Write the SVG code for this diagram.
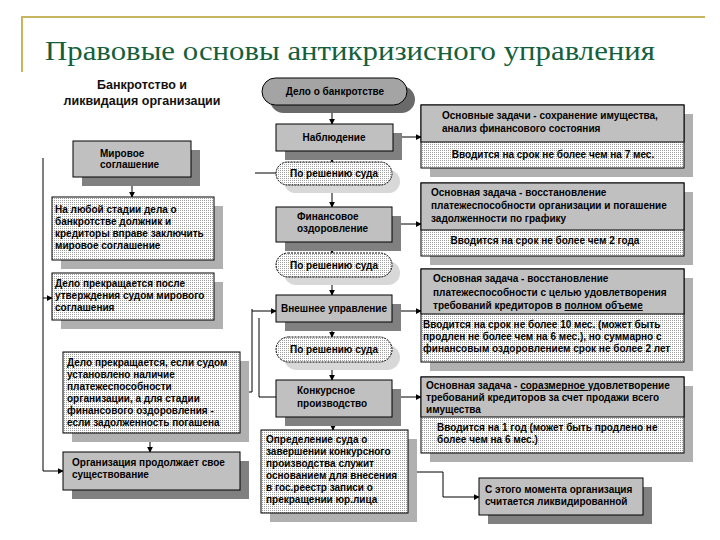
<svg xmlns="http://www.w3.org/2000/svg" width="720" height="540" viewBox="0 0 720 540">
<defs>
<pattern id="dots" width="2" height="2" patternUnits="userSpaceOnUse"><rect width="2" height="2" fill="#ffffff"/><rect width="1" height="1" fill="#a0a0a0"/></pattern>
<marker id="arr" viewBox="0 0 8 8" refX="7" refY="4" markerWidth="6" markerHeight="6" orient="auto" markerUnits="userSpaceOnUse"><path d="M0,0 L8,4 L0,8 z" fill="#000"/></marker>
<style>
.t{font-family:"Liberation Sans",Arial,sans-serif;font-size:10px;font-weight:bold;fill:#000}
.h{font-family:"Liberation Sans",Arial,sans-serif;font-size:12.5px;font-weight:bold;fill:#111}
.g{fill:#c0c0c0;stroke:#000;stroke-width:1}
.d{fill:url(#dots);stroke:#000;stroke-width:1}
.sg{fill:#808080}
.sd{fill:#b0b0b0}
.so{fill:#d8d8d8}
.ov{fill:url(#dots);stroke:#000;stroke-width:1;stroke-dasharray:2,1}
.c{fill:none;stroke:#000;stroke-width:1}
</style>
</defs>
<rect width="720" height="540" fill="#fff"/>
<g id="title">
<path d="M22,72 L22,17 L705,17" fill="none" stroke="#c8b560" stroke-width="2"/>
<text x="45" y="60" font-family="Liberation Serif,serif" font-size="28" fill="#155f3c" textLength="610" lengthAdjust="spacingAndGlyphs">Правовые основы антикризисного управления</text>
</g>
<g id="header">
<text class="h" x="142" y="89" text-anchor="middle">Банкротство и</text>
<text class="h" x="142" y="105" text-anchor="middle">ликвидация организации</text>
</g>
<g id="connectors">
<path class="c" d="M332,105 V124" marker-end="url(#arr)"/>
<path class="c" d="M332,151 V162" marker-end="url(#arr)"/>
<path class="c" d="M332,185 V207" marker-end="url(#arr)"/>
<path class="c" d="M332,242 V253" marker-end="url(#arr)"/>
<path class="c" d="M332,277 V295" marker-end="url(#arr)"/>
<path class="c" d="M332,322 V337" marker-end="url(#arr)"/>
<path class="c" d="M332,362 V380" marker-end="url(#arr)"/>
<path class="c" d="M333,417 V430" marker-end="url(#arr)"/>
<path class="c" d="M408,472 H443 V497 H479" marker-end="url(#arr)"/>
<path class="c" d="M393,137 H421" marker-end="url(#arr)"/>
<path class="c" d="M392,224 H421" marker-end="url(#arr)"/>
<path class="c" d="M392,311 H421" marker-end="url(#arr)"/>
<path class="c" d="M392,397 H421" marker-end="url(#arr)"/>
<path class="c" d="M132,177 V197" marker-end="url(#arr)"/>
<path class="c" d="M150,433 V452" marker-end="url(#arr)"/>
<path class="c" d="M276,173 H255"/>
<path class="c" d="M43,158 V471 H63" marker-end="url(#arr)"/>
<path class="c" d="M43,298 H52" marker-end="url(#arr)"/>
<path class="c" d="M252,309 V392 H240" marker-end="url(#arr)"/>
<path class="c" d="M252,311 H276" marker-end="url(#arr)"/>
<path class="c" d="M259,318 V397 H276"/>
</g>
<g id="pill">
<rect x="270" y="86" width="145" height="27" rx="13.5" fill="#6a6a6a"/>
<rect x="262" y="78" width="145" height="27" rx="13.5" fill="#a4a4a4" stroke="#000"/>
<text class="t" x="335" y="95" font-size="11" text-anchor="middle">Дело  о банкротстве</text>
</g>
<g id="nabl">
<rect class="sg" x="285" y="133" width="117" height="27"/>
<rect class="g" x="276" y="124" width="117" height="27"/>
<text class="t" x="334" y="141" text-anchor="middle">Наблюдение</text>
</g>
<g id="oval1">
<rect class="so" x="284" y="170" width="116" height="23" rx="11.5"/>
<rect class="ov" x="276" y="162" width="116" height="23" rx="11.5"/>
<text class="t" x="334" y="177" text-anchor="middle">По решению суда</text>
</g>
<g id="fin">
<rect class="sg" x="285" y="216" width="116" height="35"/>
<rect class="g" x="276" y="207" width="116" height="35"/>
<text class="t" x="297" y="220">Финансовое</text>
<text class="t" x="297" y="232">оздоровление</text>
</g>
<g id="oval2">
<rect class="so" x="284" y="261" width="116" height="24" rx="12"/>
<rect class="ov" x="276" y="253" width="116" height="24" rx="12"/>
<text class="t" x="334" y="269" text-anchor="middle">По решению суда</text>
</g>
<g id="vnesh">
<rect class="sg" x="285" y="304" width="116" height="27"/>
<rect class="g" x="276" y="295" width="116" height="27"/>
<text class="t" x="334" y="312" text-anchor="middle">Внешнее управление</text>
</g>
<g id="oval3">
<rect class="so" x="284" y="345" width="116" height="25" rx="12.5"/>
<rect class="ov" x="276" y="337" width="116" height="25" rx="12.5"/>
<text class="t" x="334" y="353" text-anchor="middle">По решению суда</text>
</g>
<g id="konk">
<rect class="sg" x="285" y="389" width="116" height="37"/>
<rect class="g" x="276" y="380" width="116" height="37"/>
<text class="t" x="297" y="394">Конкурсное</text>
<text class="t" x="297" y="407">производство</text>
</g>
<g id="opred">
<rect class="sd" x="270" y="439" width="147" height="83"/>
<rect class="d" x="261" y="430" width="147" height="83"/>
<text class="t" x="266" y="443">Определение суда о</text>
<text class="t" x="266" y="455">завершении конкурсного</text>
<text class="t" x="266" y="467">производства служит</text>
<text class="t" x="266" y="479">основанием для внесения</text>
<text class="t" x="266" y="491">в гос.реестр записи о</text>
<text class="t" x="266" y="503">прекращении юр.лица</text>
</g>
<g id="liquid">
<rect class="sg" x="488" y="487" width="164" height="37"/>
<rect class="g" x="479" y="478" width="164" height="37"/>
<text class="t" x="485" y="493">С этого момента организация</text>
<text class="t" x="485" y="505">считается ликвидированной</text>
</g>
<g id="r1">
<rect class="sd" x="430" y="114" width="263" height="63"/>
<rect class="d" x="421" y="105" width="263" height="63"/>
<rect class="g" x="421" y="105" width="263" height="37"/>
<text class="t" x="442" y="119">Основные задачи - сохранение имущества,</text>
<text class="t" x="442" y="132">анализ финансового состояния</text>
<text class="t" x="553" y="158" text-anchor="middle">Вводится на  срок не более чем на 7 мес.</text>
</g>
<g id="r2">
<rect class="sd" x="430" y="192" width="263" height="73"/>
<rect class="d" x="421" y="183" width="263" height="73"/>
<rect class="g" x="421" y="183" width="263" height="47"/>
<text class="t" x="431" y="196">Основная задача - восстановление</text>
<text class="t" x="431" y="209">платежеспособности организации  и погашение</text>
<text class="t" x="431" y="222">задолженности по графику</text>
<text class="t" x="545" y="244" text-anchor="middle">Вводится на  срок не более чем  2  года</text>
</g>
<g id="r3">
<rect class="sd" x="430" y="278" width="263" height="93"/>
<rect class="d" x="421" y="269" width="263" height="93"/>
<rect class="g" x="421" y="269" width="263" height="45"/>
<text class="t" x="433" y="282">Основная задача - восстановление</text>
<text class="t" x="433" y="296">платежеспособности с целью удовлетворения</text>
<text class="t" x="433" y="309">требований кредиторов в <tspan text-decoration="underline">полном объеме</tspan></text>
<text class="t" x="423" y="328">Вводится на  срок  не более 10 мес. (может быть</text>
<text class="t" x="423" y="340">продлен не более чем на 6 мес.), но суммарно с</text>
<text class="t" x="423" y="352">финансовым оздоровлением срок не более 2 лет</text>
</g>
<g id="r4">
<rect class="sd" x="430" y="386" width="263" height="76"/>
<rect class="d" x="421" y="377" width="263" height="76"/>
<rect class="g" x="421" y="377" width="263" height="40"/>
<text class="t" x="426" y="389">Основная задача -  <tspan text-decoration="underline">соразмерное </tspan>удовлетворение</text>
<text class="t" x="426" y="401">требований кредиторов  за счет продажи всего</text>
<text class="t" x="426" y="413">имущества</text>
<text class="t" x="437" y="431">Вводится на  1 год (может быть продлено не</text>
<text class="t" x="437" y="443">более чем на 6 мес.)</text>
</g>
<g id="mir">
<rect class="sg" x="82" y="150" width="118" height="36"/>
<rect class="g" x="73" y="141" width="118" height="36"/>
<text class="t" x="100" y="157">Мировое</text>
<text class="t" x="100" y="168">соглашение</text>
</g>
<g id="lub">
<rect class="sd" x="61" y="206" width="162" height="63"/>
<rect class="d" x="52" y="197" width="162" height="63"/>
<text class="t" x="55" y="213">На любой стадии дела о</text>
<text class="t" x="55" y="225">банкротстве должник и</text>
<text class="t" x="55" y="237">кредиторы вправе заключить</text>
<text class="t" x="55" y="249">мировое соглашение</text>
</g>
<g id="prek1">
<rect class="sd" x="61" y="282" width="162" height="47"/>
<rect class="d" x="52" y="273" width="162" height="47"/>
<text class="t" x="55" y="287">Дело прекращается после</text>
<text class="t" x="55" y="299">утверждения судом мирового</text>
<text class="t" x="55" y="311">соглашения</text>
</g>
<g id="prek2">
<rect class="sd" x="72" y="361" width="177" height="81"/>
<rect class="d" x="63" y="352" width="177" height="81"/>
<text class="t" x="67" y="366">Дело прекращается, если судом</text>
<text class="t" x="67" y="378">установлено наличие</text>
<text class="t" x="67" y="390">платежеспособности</text>
<text class="t" x="67" y="402">организации, а для стадии</text>
<text class="t" x="67" y="414">финансового оздоровления -</text>
<text class="t" x="67" y="426">если задолженность погашена</text>
</g>
<g id="org">
<rect class="sg" x="72" y="461" width="177" height="38"/>
<rect class="g" x="63" y="452" width="177" height="38"/>
<text class="t" x="72" y="466">Организация продолжает свое</text>
<text class="t" x="72" y="478">существование</text>
</g>
</svg>
